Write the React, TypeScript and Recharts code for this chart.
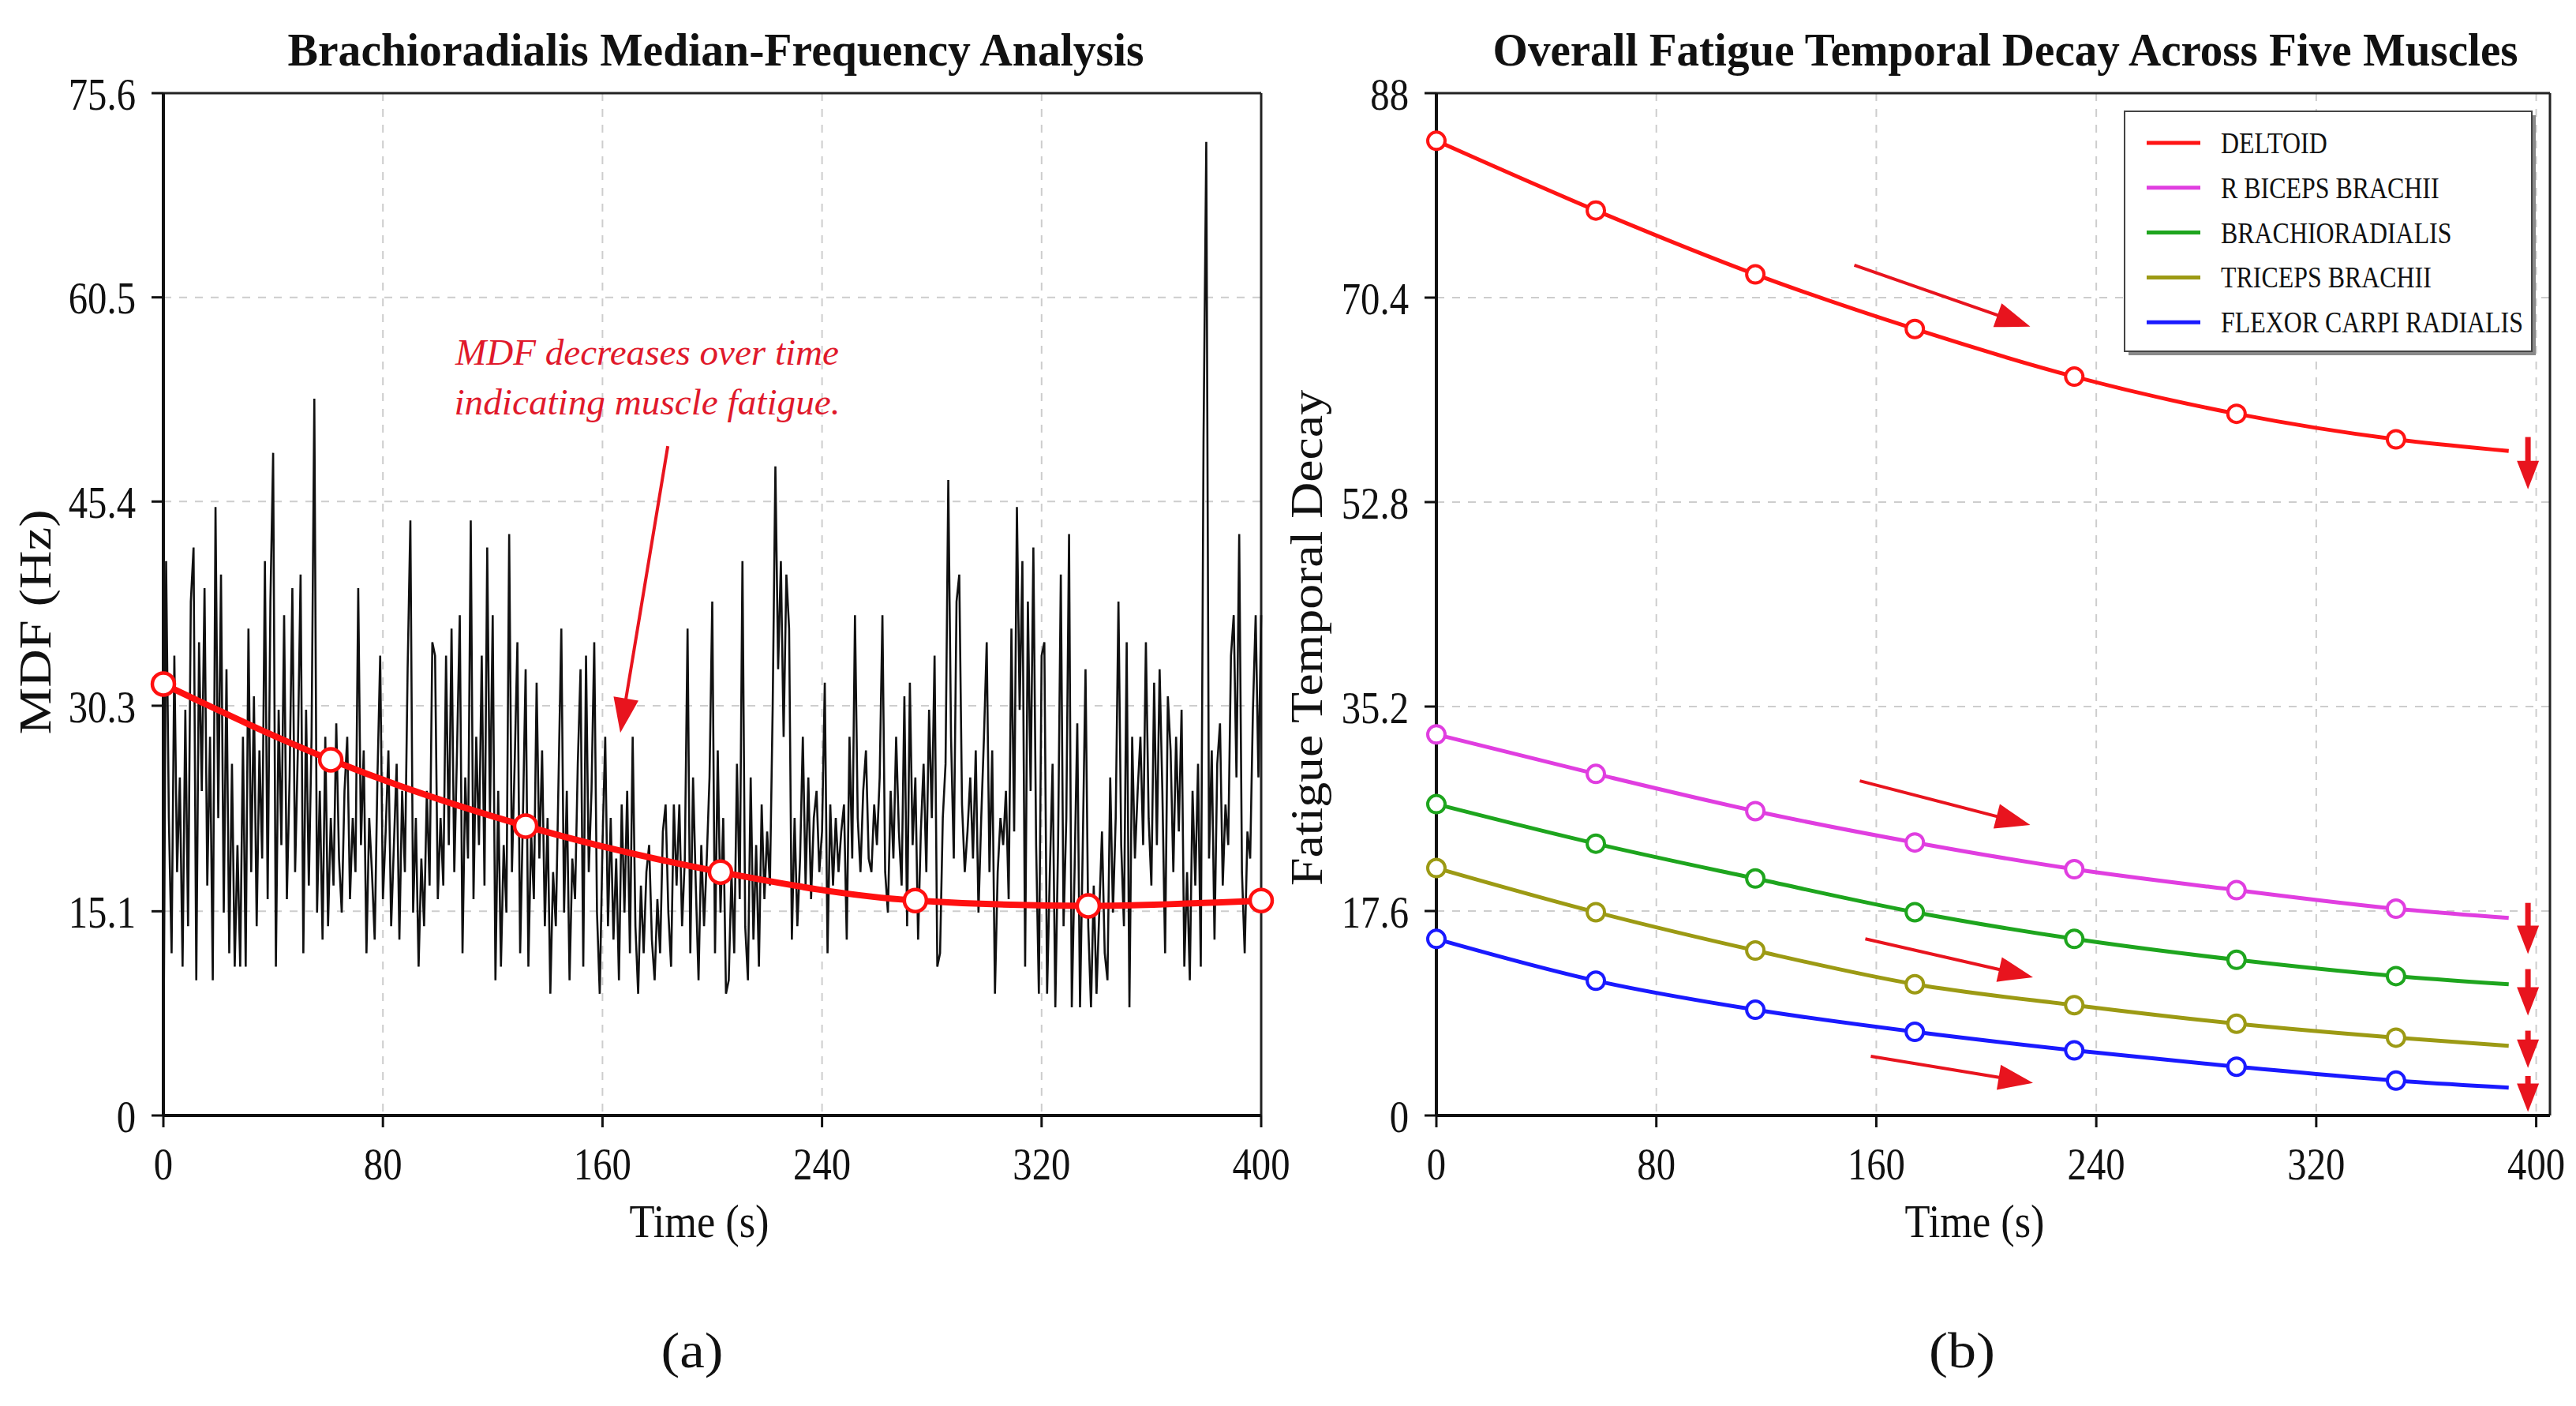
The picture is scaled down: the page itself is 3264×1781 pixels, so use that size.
import React from 'react'
import { LineChart, Line, XAxis, YAxis, CartesianGrid, ReferenceLine } from 'recharts'

// (a) brachioradialis median frequency, one sample per second, 0..400 s
const MDF_HZ = [
  1, 41, 22, 12, 34, 18, 25, 11, 30, 14, 38, 42, 10, 35, 24, 39, 17, 28, 10, 45,
  22, 40, 15, 33, 12, 26, 11, 20, 11, 28, 11, 36, 18, 31, 14, 27, 19, 41, 16, 38,
  49, 11, 30, 20, 37, 16, 25, 39, 18, 27, 40, 12, 30, 17, 28, 53, 15, 24, 13, 28,
  14, 22, 17, 29, 19, 15, 24, 28, 16, 22, 18, 39, 20, 27, 12, 22, 18, 13, 25, 34,
  16, 21, 27, 14, 20, 26, 13, 24, 18, 33, 44, 15, 22, 11, 19, 14, 24, 17, 35, 34,
  16, 22, 17, 34, 20, 36, 18, 27, 37, 12, 25, 19, 44, 16, 28, 20, 34, 17, 42, 22,
  37, 10, 24, 11, 20, 15, 43, 18, 26, 35, 12, 22, 33, 11, 21, 16, 32, 19, 27, 14,
  22, 9, 18, 14, 25, 36, 15, 24, 10, 19, 16, 26, 33, 11, 34, 18, 24, 35, 15, 9,
  20, 28, 14, 22, 13, 19, 10, 23, 15, 24, 12, 28, 14, 9, 17, 12, 18, 20, 13, 10,
  16, 12, 21, 23, 15, 11, 23, 17, 23, 14, 19, 36, 12, 25, 17, 10, 20, 14, 19, 25,
  38, 12, 27, 15, 22, 9, 10, 18, 12, 26, 16, 41, 14, 10, 25, 13, 20, 11, 23, 16,
  21, 17, 30, 48, 33, 41, 28, 40, 36, 13, 22, 14, 19, 28, 17, 25, 16, 22, 24, 18,
  21, 32, 12, 23, 17, 22, 18, 21, 23, 13, 28, 19, 37, 22, 18, 24, 27, 19, 18, 23,
  20, 25, 37, 18, 15, 24, 19, 28, 21, 17, 31, 14, 32, 20, 25, 13, 21, 26, 18, 30,
  22, 34, 11, 12, 22, 26, 47, 28, 19, 38, 40, 23, 18, 21, 25, 19, 27, 15, 22, 28,
  35, 18, 27, 9, 18, 22, 20, 24, 16, 36, 21, 45, 30, 41, 11, 38, 24, 42, 20, 9,
  34, 35, 9, 18, 26, 8, 20, 40, 14, 22, 43, 8, 18, 29, 8, 20, 33, 14, 8, 17,
  9, 15, 21, 12, 10, 25, 15, 22, 38, 20, 14, 35, 8, 28, 19, 24, 28, 20, 35, 22,
  17, 32, 20, 33, 24, 12, 31, 27, 18, 28, 21, 30, 11, 18, 10, 24, 17, 26, 11, 50,
  72, 19, 27, 13, 26, 29, 17, 23, 20, 34, 37, 25, 43, 18, 12, 21, 19, 30, 37, 25,
  37,
]
const FIT_TIME = [0, 61, 132, 203, 274, 337, 400]
const FIT_HZ = [31.9, 26.3, 21.4, 18.0, 15.9, 15.5, 15.9]
const MDF_TICKS = [0, 15.1, 30.3, 45.4, 60.5, 75.6]
const TIME_TICKS = [0, 80, 160, 240, 320, 400]

// (b) fatigue decay per muscle
const DECAY_TIME = [0, 58, 116, 174, 232, 291, 349, 390]
const DELTOID = [83.9, 77.9, 72.4, 67.7, 63.6, 60.4, 58.2, 57.2]
const BICEPS = [32.8, 29.4, 26.2, 23.5, 21.2, 19.4, 17.8, 17.0]
const BRACHIO = [26.8, 23.4, 20.4, 17.5, 15.2, 13.4, 12.0, 11.3]
const TRICEPS = [21.3, 17.5, 14.2, 11.3, 9.5, 7.9, 6.7, 6.0]
const FLEXOR = [15.2, 11.6, 9.1, 7.2, 5.6, 4.2, 3.0, 2.4]
const DECAY_TICKS = [0, 17.6, 35.2, 52.8, 70.4, 88]

const MUSCLES = [
  { key: 'deltoid', name: 'DELTOID', color: '#ff1414', values: DELTOID },
  { key: 'biceps', name: 'R BICEPS BRACHII', color: '#e03ee0', values: BICEPS },
  { key: 'brachio', name: 'BRACHIORADIALIS', color: '#1ea51e', values: BRACHIO },
  { key: 'triceps', name: 'TRICEPS BRACHII', color: '#9c9a14', values: TRICEPS },
  { key: 'flexor', name: 'FLEXOR CARPI RADIALIS', color: '#1a1aff', values: FLEXOR },
]

// annotation arrows, in data units
const MDF_ARROW = [{ x: 183.8, y: 49.5 }, { x: 166.5, y: 28.3 }]
const SLOPE_ARROWS = [
  [{ x: 152, y: 73.2 }, { x: 216, y: 67.9 }],
  [{ x: 154, y: 28.8 }, { x: 216, y: 25.0 }],
  [{ x: 156, y: 15.2 }, { x: 217, y: 11.9 }],
  [{ x: 158, y: 5.1 }, { x: 217, y: 2.8 }],
]
const DROP_ARROWS = [
  [{ x: 397, y: 58.4 }, { x: 397, y: 53.9 }],
  [{ x: 397, y: 18.3 }, { x: 397, y: 13.9 }],
  [{ x: 397, y: 12.6 }, { x: 397, y: 8.6 }],
  [{ x: 397, y: 7.3 }, { x: 397, y: 4.1 }],
  [{ x: 397, y: 3.4 }, { x: 397, y: 0.3 }],
]

const SERIF = "'Liberation Serif', 'Times New Roman', serif"

const mdfData = MDF_HZ.map((v, i) => ({ t: i, v }))
const fitData = FIT_TIME.map((t, i) => ({ t, v: FIT_HZ[i] }))
const decayData = DECAY_TIME.map((t, i) => {
  const row: Record<string, number> = { t }
  MUSCLES.forEach(m => { row[m.key] = m.values[i] })
  return row
})

const CondTick = (props: any) => {
  const { x, y, payload, axis } = props
  const isX = axis === 'x'
  return (
    <g transform={`translate(${x},${y}) scale(0.84,1)`}>
      <text
        x={0}
        y={0}
        dy={isX ? '0.71em' : '0.355em'}
        textAnchor={isX ? 'middle' : 'end'}
        fontSize={58}
        fill="#111"
        fontFamily={SERIF}
      >
        {payload.value}
      </text>
    </g>
  )
}

function arrow(color: string, width: number, headLen: number, headW: number) {
  return (p: any) => {
    const { x1, y1, x2, y2 } = p
    const dx = x2 - x1
    const dy = y2 - y1
    const len = Math.hypot(dx, dy) || 1
    const ux = dx / len
    const uy = dy / len
    const bx = x2 - ux * headLen
    const by = y2 - uy * headLen
    const px = (-uy * headW) / 2
    const py = (ux * headW) / 2
    return (
      <g>
        <line x1={x1} y1={y1} x2={bx + ux * 2} y2={by + uy * 2} stroke={color} strokeWidth={width} />
        <polygon points={`${x2},${y2} ${bx + px},${by + py} ${bx - px},${by - py}`} fill={color} />
      </g>
    )
  }
}

const axisLine = { stroke: '#111', strokeWidth: 4 }
const tickLine = { stroke: '#111', strokeWidth: 3 }

function MdfChart() {
  return (
    <LineChart width={1700} height={1781} margin={{ top: 118, right: 102, bottom: 268, left: 87 }}>
      <CartesianGrid stroke="#cdcdcd" strokeDasharray="10 10" strokeWidth={2} />
      <XAxis
        dataKey="t"
        type="number"
        domain={[0, 400]}
        ticks={TIME_TICKS}
        height={100}
        tickSize={15}
        tickMargin={25}
        axisLine={axisLine}
        tickLine={tickLine}
        tick={<CondTick axis="x" />}
      />
      <YAxis
        type="number"
        domain={[0, 75.6]}
        ticks={MDF_TICKS}
        width={120}
        tickSize={15}
        tickMargin={20}
        axisLine={axisLine}
        tickLine={tickLine}
        tick={<CondTick axis="y" />}
      />
      <ReferenceLine y={75.6} stroke="#222" strokeWidth={3} />
      <ReferenceLine x={400} stroke="#222" strokeWidth={3} />
      <Line
        data={mdfData}
        dataKey="v"
        type="linear"
        stroke="#111"
        strokeWidth={2.6}
        dot={false}
        isAnimationActive={false}
      />
      <Line
        data={fitData}
        dataKey="v"
        type="monotone"
        stroke="#ff1010"
        strokeWidth={8}
        dot={{ r: 14, fill: '#fff', stroke: '#ff1010', strokeWidth: 4.5 }}
        isAnimationActive={false}
      />
      <ReferenceLine segment={MDF_ARROW} shape={arrow('#e8141e', 4, 44, 32)} />
    </LineChart>
  )
}

function DecayChart() {
  return (
    <LineChart
      width={1632}
      height={1781}
      data={decayData}
      margin={{ top: 118, right: 33, bottom: 268, left: 68 }}
    >
      <CartesianGrid stroke="#cdcdcd" strokeDasharray="10 10" strokeWidth={2} />
      <XAxis
        dataKey="t"
        type="number"
        domain={[0, 405]}
        ticks={TIME_TICKS}
        height={100}
        tickSize={15}
        tickMargin={25}
        axisLine={axisLine}
        tickLine={tickLine}
        tick={<CondTick axis="x" />}
      />
      <YAxis
        type="number"
        domain={[0, 88]}
        ticks={DECAY_TICKS}
        width={120}
        tickSize={15}
        tickMargin={20}
        axisLine={axisLine}
        tickLine={tickLine}
        tick={<CondTick axis="y" />}
      />
      <ReferenceLine y={88} stroke="#222" strokeWidth={3} />
      <ReferenceLine x={405} stroke="#222" strokeWidth={3} />
      {MUSCLES.map(m => (
        <Line
          key={m.key}
          dataKey={m.key}
          type="monotone"
          stroke={m.color}
          strokeWidth={5}
          isAnimationActive={false}
          dot={(p: any) =>
            p.index < DECAY_TIME.length - 1 ? (
              <circle key={p.index} cx={p.cx} cy={p.cy} r={11} fill="#fff" stroke={m.color} strokeWidth={4} />
            ) : (
              <g key={p.index} />
            )
          }
        />
      ))}
      {SLOPE_ARROWS.map((s, i) => (
        <ReferenceLine key={'s' + i} segment={s} shape={arrow('#e8141e', 4, 44, 32)} />
      ))}
      {DROP_ARROWS.map((s, i) => (
        <ReferenceLine key={'d' + i} segment={s} shape={arrow('#e8141e', 7, 36, 28)} />
      ))}
    </LineChart>
  )
}

function Overlay() {
  return (
    <svg width={3264} height={1781} style={{ position: 'absolute', left: 0, top: 0, pointerEvents: 'none' }}>
      <g fontFamily={SERIF} fill="#111">
        <text x={907} y={83} fontSize={60} fontWeight="bold" textAnchor="middle" textLength={1085} lengthAdjust="spacingAndGlyphs">
          Brachioradialis  Median-Frequency Analysis
        </text>
        <text x={2541} y={83} fontSize={60} fontWeight="bold" textAnchor="middle" textLength={1299} lengthAdjust="spacingAndGlyphs">
          Overall Fatigue Temporal  Decay Across Five Muscles
        </text>
        <text transform="translate(64,788) rotate(-90)" fontSize={58} textAnchor="middle" textLength={285} lengthAdjust="spacingAndGlyphs">
          MDF (Hz)
        </text>
        <text transform="translate(1675,808) rotate(-90)" fontSize={56} textAnchor="middle" textLength={628} lengthAdjust="spacingAndGlyphs">
          Fatigue Temporal Decay
        </text>
        <text x={886} y={1567} fontSize={60} textAnchor="middle" textLength={177} lengthAdjust="spacingAndGlyphs">
          Time (s)
        </text>
        <text x={2502} y={1567} fontSize={60} textAnchor="middle" textLength={177} lengthAdjust="spacingAndGlyphs">
          Time (s)
        </text>
        <text x={877} y={1732} fontSize={64} textAnchor="middle" textLength={79} lengthAdjust="spacingAndGlyphs">
          (a)
        </text>
        <text x={2486} y={1732} fontSize={64} textAnchor="middle" textLength={84} lengthAdjust="spacingAndGlyphs">
          (b)
        </text>
        <g fill="#e0192b" fontStyle="italic" fontSize={46}>
          <text x={820} y={462} textAnchor="middle" textLength={486} lengthAdjust="spacingAndGlyphs">
            MDF decreases over time
          </text>
          <text x={820} y={525} textAnchor="middle" textLength={489} lengthAdjust="spacingAndGlyphs">
            indicating muscle fatigue.
          </text>
        </g>
      </g>
      <g>
        <rect x={2697} y={146} width={516} height={304} fill="#8a8a8a" />
        <rect x={2692} y={141} width={516} height={304} fill="#fff" stroke="#444" strokeWidth={2} />
        {MUSCLES.map((m, i) => {
          const cy = 181 + i * 56.8
          return (
            <g key={m.key}>
              <line x1={2720} y1={cy} x2={2788} y2={cy} stroke={m.color} strokeWidth={5} />
              <g transform={`translate(2814,${cy + 13}) scale(0.84,1)`}>
                <text x={0} y={0} fontSize={38} fontFamily={SERIF} fill="#111">
                  {m.name}
                </text>
              </g>
            </g>
          )
        })}
      </g>
    </svg>
  )
}

export default function App() {
  return (
    <div
      style={{
        position: 'absolute',
        left: 0,
        top: 0,
        width: 3264,
        height: 1781,
        background: '#fff',
        overflow: 'hidden',
      }}
    >
      <div style={{ position: 'absolute', left: 0, top: 0 }}>
        <MdfChart />
      </div>
      <div style={{ position: 'absolute', left: 1632, top: 0 }}>
        <DecayChart />
      </div>
      <Overlay />
    </div>
  )
}
